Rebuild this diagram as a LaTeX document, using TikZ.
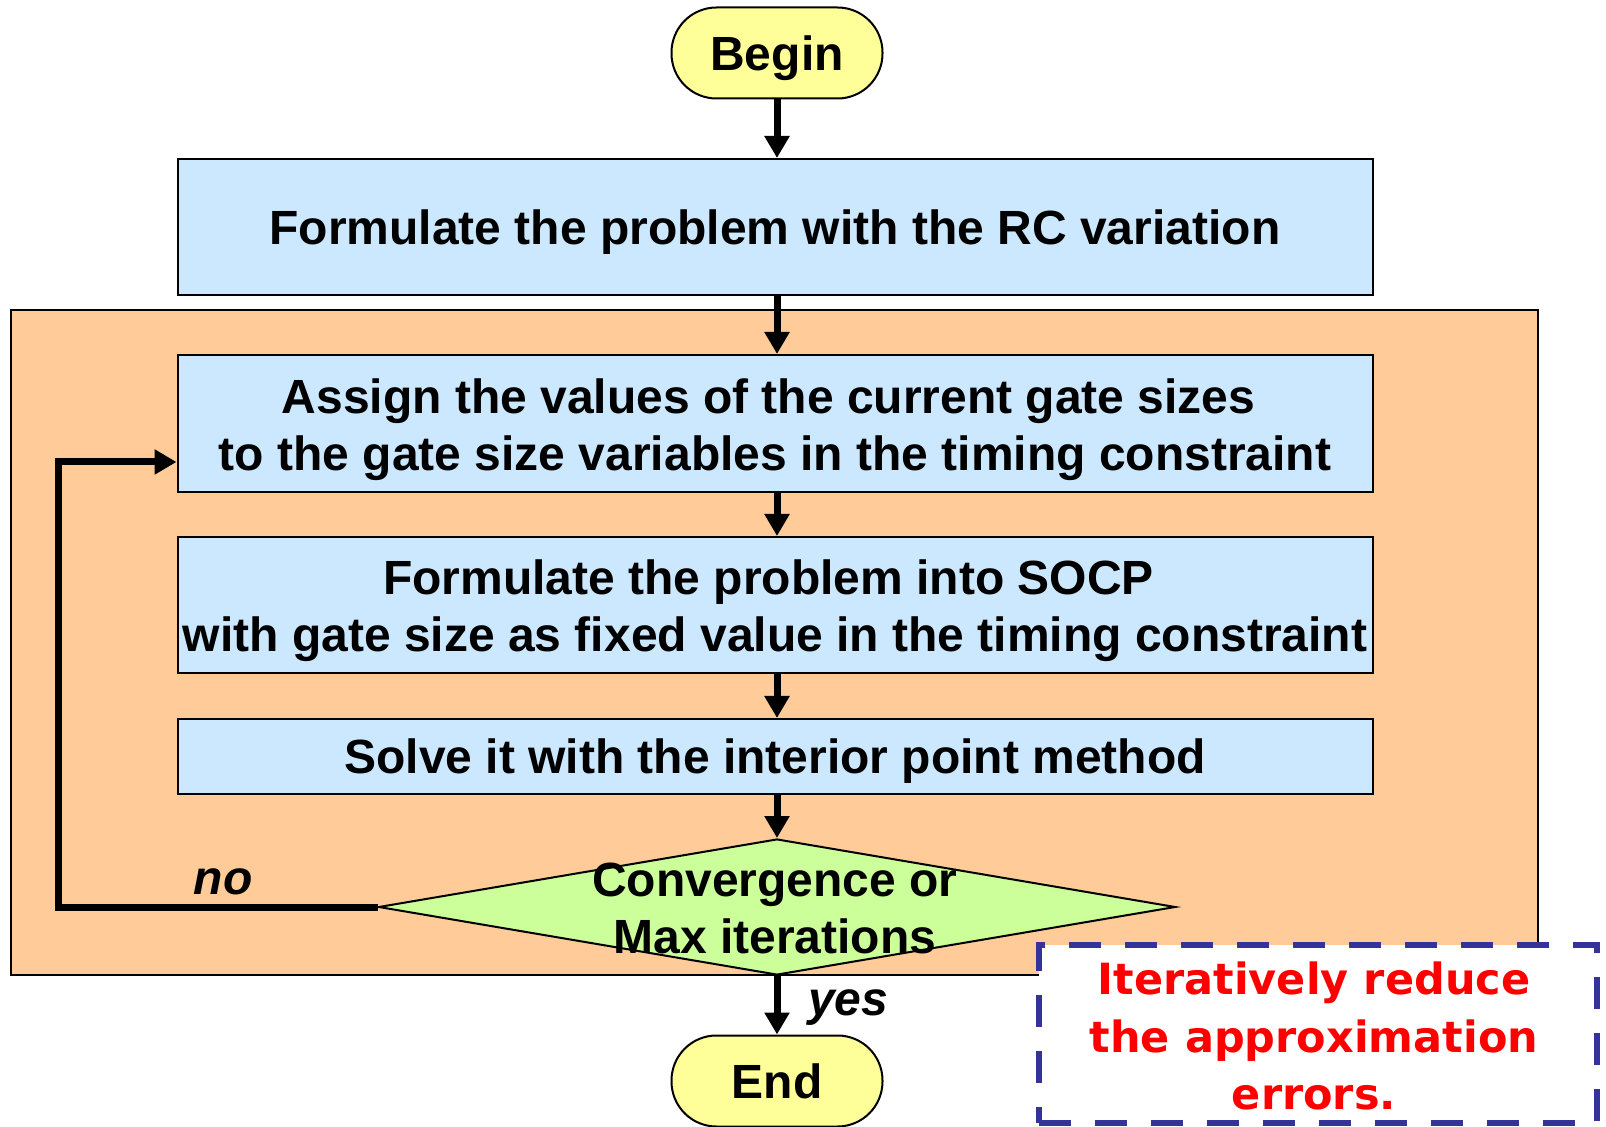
\documentclass[tikz,border=0pt]{standalone}
\usepackage{fontspec}
\setmainfont{Liberation Sans}
\newfontfamily\notefont{DejaVu Sans}
\usetikzlibrary{arrows.meta,shapes.geometric,calc}
\definecolor{termfill}{HTML}{FFFF99}
\definecolor{stepfill}{HTML}{CCE8FF}
\definecolor{loopfill}{HTML}{FFCC99}
\definecolor{decfill}{HTML}{CCFF99}
\definecolor{notecol}{HTML}{333399}
\begin{document}
\begin{tikzpicture}[x=0.5pt,y=-0.5pt,
  mainfont/.style={font=\fontsize{24}{28.5}\selectfont\bfseries},
  term/.style={draw,line width=1pt,fill=termfill,rounded corners=22.5pt,minimum width=105.5pt,minimum height=45.5pt,inner sep=0pt},
  procbox/.style={draw,line width=1pt,fill=stepfill,minimum width=597.5pt,inner sep=0pt},
  boxtext/.style={mainfont,align=center,inner sep=0pt},
  flow/.style={line width=3.5pt,-{Triangle[length=11pt,width=12pt]}},
  lbl/.style={font=\fontsize{24}{28.5}\selectfont\bfseries\itshape},
]
\useasboundingbox (0,0) rectangle (1606,1127);
% loop background
\node[draw,line width=0.8pt,fill=loopfill,minimum width=763.5pt,minimum height=332.5pt,inner sep=0pt] (loopbg) at (774.5,642.5) {};
% shapes
\node[term] (begin) at (777,53) {};
\node[procbox,minimum height=68pt] (box1) at (775,227) {};
\node[procbox,minimum height=68.5pt] (box2) at (775,423.5) {};
\node[procbox,minimum height=68pt] (box3) at (775,605) {};
\node[procbox,minimum height=37.5pt] (box4) at (775,756.5) {};
\node[diamond,draw,line width=1pt,fill=decfill,minimum width=398.5pt,minimum height=68pt,inner sep=0pt] (dia) at (777,907) {};
\node[term] (end) at (777,1081) {};
% texts
\node[boxtext] (begintext) at ($(begin)+(0,5)$) {Begin};
\node[boxtext] (box1text) at ($(box1)+(0,5)$) {Formulate the problem with the RC variation};
\node[boxtext] (box2text) at ($(box2)+(0,6)$) {Assign the values of the current gate sizes\rule{6.5pt}{0pt}\\to the gate size variables in the timing constraint};
\node[boxtext] (box3text) at ($(box3)+(0,6)$) {Formulate the problem into SOCP\rule{6.5pt}{0pt}\\with gate size as fixed value in the timing constraint};
\node[boxtext] (box4text) at ($(box4)+(0,5)$) {Solve it with the interior point method};
\node[boxtext] (diatext) at ($(dia)+(-2,1)$) {Convergence or\\Max iterations};
\node[boxtext] (endtext) at ($(end)+(0,0)$) {End};
% connectors
\draw[flow] (begin.south) -- (begin.south |- box1.north);
\draw[flow] (begin |- box1.south) -- (begin |- box2.north);
\draw[flow] (begin |- box2.south) -- (begin |- box3.north);
\draw[flow] (begin |- box3.south) -- (begin |- box4.north);
\draw[flow] (begin |- box4.south) -- (dia.north);
\draw[flow] (dia.south) -- (end.north);
\coordinate (loopturn) at (58,462);
\coordinate (loopin) at ($(box2.west)+(0,38.5)$);
\draw[flow] (dia.west) -| (loopturn) -- (loopin);
\node[lbl,anchor=base] (nolabel) at (223,894) {no};
\node[lbl,anchor=base west] (yeslabel) at (801,1015) {yes};
% note
\node[draw=notecol,line width=3.3pt,dash pattern=on 16pt off 12pt,fill=white,minimum width=279pt,minimum height=89pt,inner sep=0pt] (note) at (1318,1034) {};
\node[text=red,font=\notefont\fontsize{21.5}{28.7}\selectfont\bfseries,align=center] (notetext) at (1314,1036) {Iteratively reduce\\the approximation\\errors.};
\end{tikzpicture}
\end{document}
